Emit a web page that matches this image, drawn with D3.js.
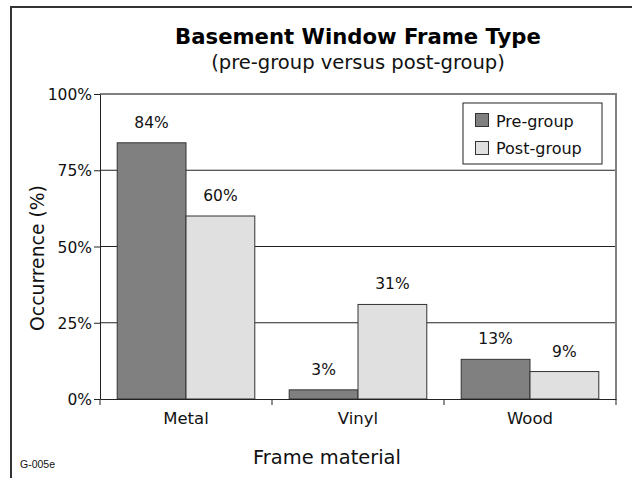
<!DOCTYPE html>
<html>
<head>
<meta charset="utf-8">
<script src="https://cdn.jsdelivr.net/npm/d3@7"></script>
<style>
  html, body { margin: 0; padding: 0; background: #fff; }
  svg { display: block; font-family: "DejaVu Sans", "Noto Sans", sans-serif; }
</style>
</head>
<body>
<svg id="chart" width="632" height="478"></svg>
<script>
// Frame material categories and the share of homes using each
const categories = ["Metal", "Vinyl", "Wood"];
const seriesNames = ["Pre-group", "Post-group"];
const preGroup = [84, 3, 13];
const postGroup = [60, 31, 9];
const yTicks = [0, 25, 50, 75, 100];
const seriesColors = ["#808080", "#e0e0e0"];

const svg = d3.select("#chart");
const W = 632, H = 478;
const plot = { left: 100, right: 616, top: 94, bottom: 399 };
const ink = "#111";

// shrink or grow a text's font so it spans the given width
function fitWidth(sel, width) {
  const node = sel.node();
  const size = parseFloat(sel.attr("font-size"));
  const w = node.getComputedTextLength();
  if (w > 0) sel.attr("font-size", (size * width / w).toFixed(2));
  return sel;
}

// outer frame (top and left edges)
svg.append("path")
  .attr("d", `M11,${H} L11,7 L${W},7`)
  .attr("fill", "none").attr("stroke", "#333").attr("stroke-width", 2);

const x = d3.scaleBand().domain(categories).range([plot.left, plot.right]).padding(0);
const groupWidth = x.bandwidth() * 0.8;
const xSub = d3.scaleBand().domain(seriesNames).range([0, groupWidth]);
const y = d3.scaleLinear().domain([0, 100]).range([plot.bottom, plot.top]);

// horizontal grid lines
svg.append("g").selectAll("line")
  .data(yTicks.filter(t => t > 0 && t < 100))
  .join("line")
  .attr("x1", plot.left).attr("x2", plot.right)
  .attr("y1", d => y(d)).attr("y2", d => y(d))
  .attr("stroke", "#222").attr("stroke-width", 1);

// plot frame, top and right
svg.append("path")
  .attr("d", `M${plot.left},${y(100)} L${plot.right},${y(100)} L${plot.right},${plot.bottom}`)
  .attr("fill", "none").attr("stroke", "#808080").attr("stroke-width", 2);

// grouped bars
const rows = categories.map((c, i) => ({ cat: c, values: [preGroup[i], postGroup[i]] }));
const groups = svg.append("g").selectAll("g")
  .data(rows).join("g")
  .attr("transform", d => `translate(${x(d.cat) + (x.bandwidth() - groupWidth) / 2},0)`);

const cells = d => d.values.map((v, k) => ({ name: seriesNames[k], v, k }));

groups.selectAll("rect")
  .data(cells).join("rect")
  .attr("x", d => xSub(d.name))
  .attr("y", d => y(d.v))
  .attr("width", xSub.bandwidth())
  .attr("height", d => y(0) - y(d.v))
  .attr("fill", d => seriesColors[d.k])
  .attr("stroke", "#333").attr("stroke-width", 1);

groups.selectAll("text")
  .data(cells).join("text")
  .attr("x", d => xSub(d.name) + xSub.bandwidth() / 2)
  .attr("y", d => y(d.v) - 15)
  .attr("text-anchor", "middle")
  .attr("font-size", 15.5).attr("fill", ink)
  .text(d => d.v + "%");

// y axis
const yAxis = svg.append("g")
  .attr("transform", `translate(${plot.left},0)`)
  .call(d3.axisLeft(y).tickValues(yTicks).tickFormat(d => d + "%").tickSize(6).tickSizeOuter(0));
yAxis.select(".domain").attr("stroke", "#222");
yAxis.selectAll(".tick line").attr("stroke", "#222");
yAxis.selectAll(".tick text").attr("font-size", 15.5).attr("fill", ink)
  .attr("font-family", "DejaVu Sans, sans-serif").attr("x", -8).attr("dy", "0.36em");

// x axis
const xAxis = svg.append("g")
  .attr("transform", `translate(0,${plot.bottom})`)
  .call(d3.axisBottom(x).tickSize(0).tickSizeOuter(0));
xAxis.select(".domain").attr("stroke", "#222");
xAxis.selectAll(".tick text").attr("font-size", 16.5).attr("fill", ink)
  .attr("font-family", "DejaVu Sans, sans-serif").attr("y", 13).attr("dy", "0.71em");
// category dividers below the axis
svg.append("g").selectAll("line")
  .data(d3.range(categories.length + 1))
  .join("line")
  .attr("x1", i => plot.left + i * x.bandwidth())
  .attr("x2", i => plot.left + i * x.bandwidth())
  .attr("y1", plot.bottom).attr("y2", plot.bottom + 6)
  .attr("stroke", "#222");

// titles
const title = svg.append("text").attr("x", 358).attr("y", 44).attr("text-anchor", "middle")
  .attr("font-size", 21).attr("font-weight", "bold").attr("fill", "#000")
  .text("Basement Window Frame Type");
fitWidth(title, 366);
const sub = svg.append("text").attr("x", 358).attr("y", 69).attr("text-anchor", "middle")
  .attr("font-size", 17).attr("fill", ink)
  .text("(pre-group versus post-group)");
fitWidth(sub, 294);
const yTitle = svg.append("text").attr("transform", "translate(44,258) rotate(-90)")
  .attr("text-anchor", "middle").attr("font-size", 18).attr("fill", ink)
  .text("Occurrence (%)");
fitWidth(yTitle, 146);
const xTitle = svg.append("text").attr("x", 327).attr("y", 464).attr("text-anchor", "middle")
  .attr("font-size", 18).attr("fill", ink)
  .text("Frame material");
fitWidth(xTitle, 148);
svg.append("text").attr("x", 20).attr("y", 468)
  .attr("font-size", 10.5).attr("fill", ink).attr("font-family", "Liberation Sans, Arial, sans-serif")
  .text("G-005e");

// legend
const legend = svg.append("g");
legend.append("rect").attr("x", 463).attr("y", 103).attr("width", 139).attr("height", 61)
  .attr("fill", "#fff").attr("stroke", "#222").attr("stroke-width", 1);
seriesNames.forEach((name, k) => {
  legend.append("rect").attr("x", 475.5).attr("y", 113.5 + k * 28).attr("width", 13).attr("height", 13)
    .attr("fill", seriesColors[k]).attr("stroke", "#333");
  legend.append("text").attr("x", 496).attr("y", 127 + k * 27)
    .attr("font-size", 16).attr("fill", ink).text(name);
});
</script>
</body>
</html>
